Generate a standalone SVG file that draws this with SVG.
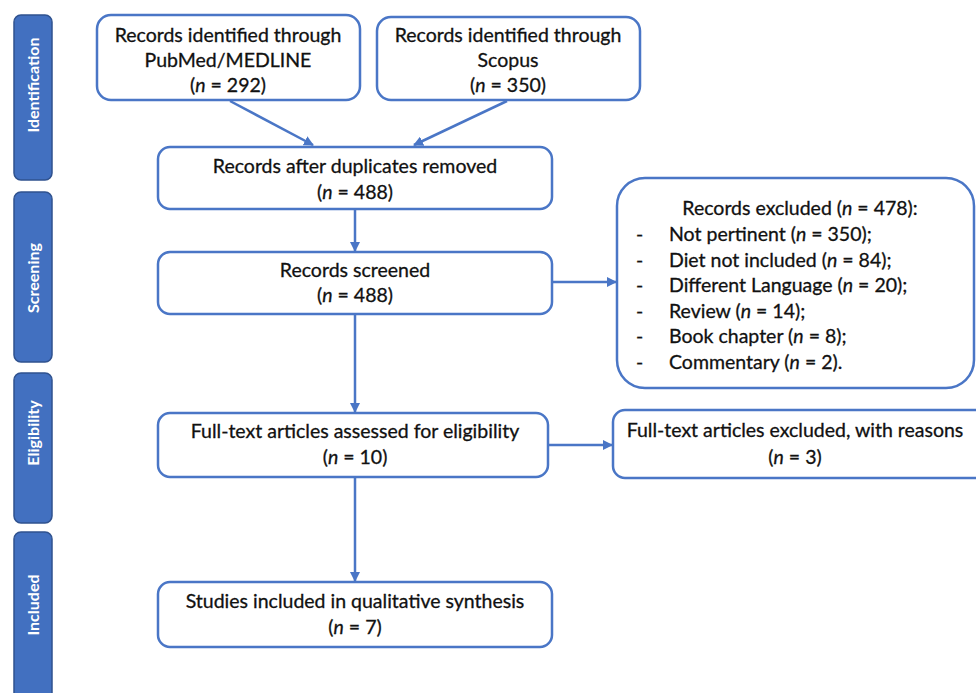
<svg xmlns="http://www.w3.org/2000/svg" width="976" height="693" viewBox="0 0 976 693">
<defs>
<marker id="ah" viewBox="0 0 10 10" refX="9" refY="5" markerWidth="4" markerHeight="4" orient="auto" markerUnits="strokeWidth">
<path d="M0,0 L10,5 L0,10 z" fill="#4A76C6"/>
</marker>
<style>
.bar{fill:#4270C0;stroke:#2F528F;stroke-width:1.5}
.bl{fill:#ffffff;font-family:Lato,"Open Sans",sans-serif;font-weight:bold;font-size:16px;text-anchor:middle}
.box{fill:#ffffff;stroke:#4A76C6;stroke-width:2.5}
.t{fill:#111111;stroke:#111111;stroke-width:0.3;font-family:Lato,"Open Sans",sans-serif;font-size:19.5px;text-anchor:middle}
.tl{fill:#111111;stroke:#111111;stroke-width:0.3;font-family:Lato,"Open Sans",sans-serif;font-size:19.5px}
.c{fill:none;stroke:#4A76C6;stroke-width:2.5;marker-end:url(#ah)}
</style>
</defs>
<rect width="976" height="693" fill="#ffffff"/>
<g id="bar-identification"><rect class="bar" x="14" y="15" width="38" height="165" rx="7"/><text class="bl" transform="translate(39,85) rotate(-90)">Identification</text></g>
<g id="bar-screening"><rect class="bar" x="14" y="192" width="38" height="170" rx="7"/><text class="bl" transform="translate(39,278) rotate(-90)">Screening</text></g>
<g id="bar-eligibility"><rect class="bar" x="14" y="373" width="38" height="150" rx="7"/><text class="bl" transform="translate(39,433) rotate(-90)">Eligibility</text></g>
<g id="bar-included"><rect class="bar" x="14" y="532" width="38" height="175" rx="7"/><text class="bl" transform="translate(39,605) rotate(-90)">Included</text></g>

<g id="pubmed"><rect class="box" x="97" y="15" width="263" height="85" rx="14"/>
<text class="t" x="228" y="42">Records identified through</text>
<text class="t" x="228" y="67">PubMed/MEDLINE</text>
<text class="t" x="228" y="92">(<tspan font-style="italic">n</tspan> = 292)</text></g>
<g id="scopus"><rect class="box" x="377" y="17" width="263" height="83" rx="14"/>
<text class="t" x="508" y="42">Records identified through</text>
<text class="t" x="508" y="67">Scopus</text>
<text class="t" x="508" y="92">(<tspan font-style="italic">n</tspan> = 350)</text></g>
<g id="duplicates"><rect class="box" x="158" y="147" width="394" height="62" rx="12"/>
<text class="t" x="355" y="173">Records after duplicates removed</text>
<text class="t" x="355" y="199">(<tspan font-style="italic">n</tspan> = 488)</text></g>
<g id="screened"><rect class="box" x="158" y="252" width="394" height="62" rx="12"/>
<text class="t" x="355" y="277">Records screened</text>
<text class="t" x="355" y="302">(<tspan font-style="italic">n</tspan> = 488)</text></g>
<g id="excluded"><rect class="box" x="617" y="178" width="357" height="210" rx="28"/>
<text class="t" x="800" y="215">Records excluded (<tspan font-style="italic">n</tspan> = 478):</text>
<text class="tl" x="636" y="241">-</text><text class="tl" x="669" y="241">Not pertinent (<tspan font-style="italic">n</tspan> = 350);</text>
<text class="tl" x="636" y="267">-</text><text class="tl" x="669" y="267">Diet not included (<tspan font-style="italic">n</tspan> = 84);</text>
<text class="tl" x="636" y="292">-</text><text class="tl" x="669" y="292">Different Language (<tspan font-style="italic">n</tspan> = 20);</text>
<text class="tl" x="636" y="318">-</text><text class="tl" x="669" y="318">Review (<tspan font-style="italic">n</tspan> = 14);</text>
<text class="tl" x="636" y="343">-</text><text class="tl" x="669" y="343">Book chapter (<tspan font-style="italic">n</tspan> = 8);</text>
<text class="tl" x="636" y="369">-</text><text class="tl" x="669" y="369">Commentary (<tspan font-style="italic">n</tspan> = 2).</text></g>
<g id="assessed"><rect class="box" x="158" y="413" width="390" height="64" rx="12"/>
<text class="t" x="355" y="438">Full-text articles assessed for eligibility</text>
<text class="t" x="355" y="464">(<tspan font-style="italic">n</tspan> = 10)</text></g>
<g id="ft-excluded"><rect class="box" x="613" y="410" width="380" height="68" rx="12"/>
<text class="t" x="795" y="437">Full-text articles excluded, with reasons</text>
<text class="t" x="795" y="464">(<tspan font-style="italic">n</tspan> = 3)</text></g>
<g id="included"><rect class="box" x="158" y="582" width="394" height="65" rx="12"/>
<text class="t" x="355" y="608">Studies included in qualitative synthesis</text>
<text class="t" x="355" y="634">(<tspan font-style="italic">n</tspan> = 7)</text></g>

<g id="connectors">
<line class="c" x1="230" y1="101" x2="313" y2="145"/>
<line class="c" x1="507" y1="101" x2="414" y2="145"/>
<line class="c" x1="355" y1="209" x2="355" y2="251"/>
<line class="c" x1="552" y1="282" x2="616" y2="282"/>
<line class="c" x1="355" y1="314" x2="355" y2="412"/>
<line class="c" x1="548" y1="445" x2="612" y2="445"/>
<line class="c" x1="355" y1="477" x2="355" y2="581"/>
</g>
</svg>
